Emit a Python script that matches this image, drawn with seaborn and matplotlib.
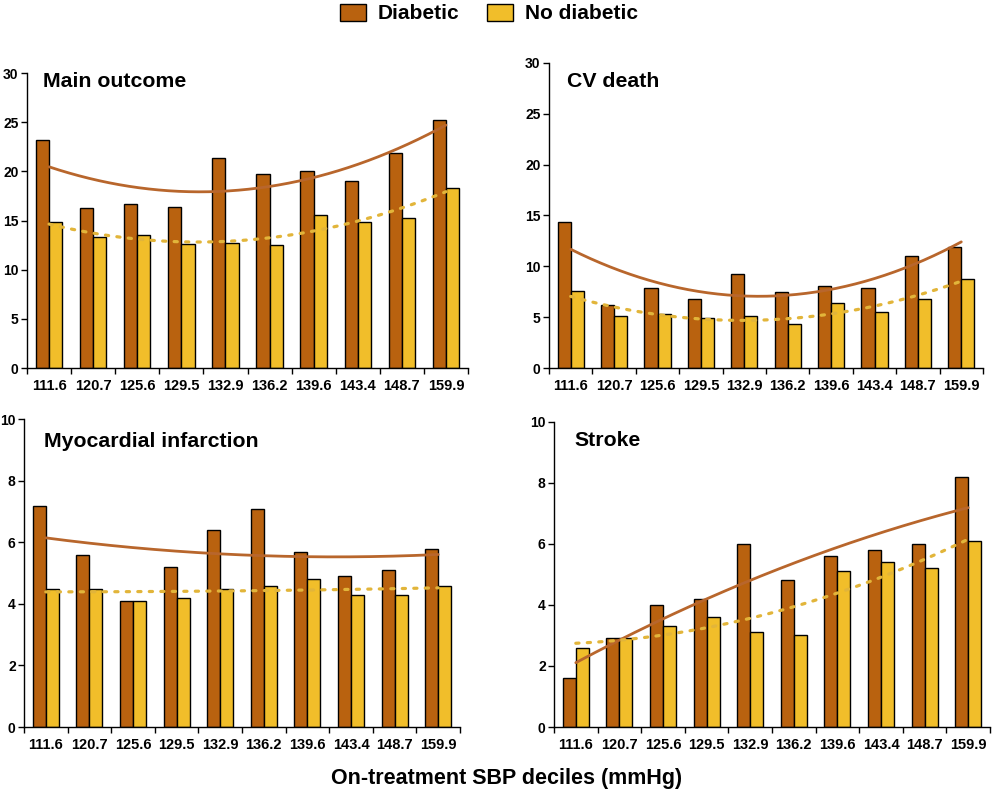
import numpy as np
import pandas as pd
import matplotlib
matplotlib.use("Agg")
import matplotlib.pyplot as plt
import seaborn as sns
from matplotlib.patches import Patch

# SBP decile labels (mmHg)
deciles = ["111.6", "120.7", "125.6", "129.5", "132.9",
           "136.2", "139.6", "143.4", "148.7", "159.9"]

# event rates
main_diab = [23.2, 16.3, 16.7, 16.4, 21.4, 19.7, 20.0, 19.0, 21.9, 25.2]
main_nodiab = [14.9, 13.3, 13.5, 12.6, 12.7, 12.5, 15.6, 14.9, 15.3, 18.3]
cv_diab = [14.4, 6.2, 7.9, 6.8, 9.2, 7.5, 8.1, 7.9, 11.0, 11.9]
cv_nodiab = [7.6, 5.1, 5.3, 4.9, 5.1, 4.3, 6.4, 5.5, 6.8, 8.8]
mi_diab = [7.2, 5.6, 4.1, 5.2, 6.4, 7.1, 5.7, 4.9, 5.1, 5.8]
mi_nodiab = [4.5, 4.5, 4.1, 4.2, 4.5, 4.6, 4.8, 4.3, 4.3, 4.6]
stroke_diab = [1.6, 2.9, 4.0, 4.2, 6.0, 4.8, 5.6, 5.8, 6.0, 8.2]
stroke_nodiab = [2.6, 2.9, 3.3, 3.6, 3.1, 3.0, 5.1, 5.4, 5.2, 6.1]

groups = ["Diabetic", "No diabetic"]
DIAB_COLOR = "#B9620F"
NODIAB_COLOR = "#F1BE2A"
DIAB_LINE = "#B8662C"
NODIAB_LINE = "#E2B53A"

panels = [
    ("Main outcome", main_diab, main_nodiab, 30, 5,
     [0.027, 0.537, 0.441, 0.371], (0.036, 0.971)),
    ("CV death", cv_diab, cv_nodiab, 30, 5,
     [0.549, 0.537, 0.434, 0.384], (0.041, 0.938)),
    ("Myocardial infarction", mi_diab, mi_nodiab, 10, 2,
     [0.024, 0.0855, 0.436, 0.387], (0.046, 0.928)),
    ("Stroke", stroke_diab, stroke_nodiab, 10, 2,
     [0.554, 0.0855, 0.436, 0.384], (0.048, 0.938)),
]

sns.set_theme(style="white")
plt.rcParams["font.family"] = ["Liberation Sans", "DejaVu Sans"]
plt.rcParams["text.color"] = "black"
plt.rcParams["xtick.color"] = "black"
plt.rcParams["ytick.color"] = "black"

fig = plt.figure(figsize=(10, 7.95), dpi=100)

for title, diab, nodiab, ymax, ystep, pos, tpos in panels:
    ax = fig.add_axes(pos)
    df = pd.DataFrame({
        "decile": deciles * 2,
        "rate": diab + nodiab,
        "group": [groups[0]] * len(deciles) + [groups[1]] * len(deciles),
    })
    sns.barplot(data=df, x="decile", y="rate", hue="group", order=deciles,
                hue_order=groups, palette=[DIAB_COLOR, NODIAB_COLOR],
                width=0.6, edgecolor="black", linewidth=1.0, saturation=1,
                legend=False, ax=ax)

    # second-order trend lines
    x = np.arange(len(deciles))
    xs = np.linspace(0, len(deciles) - 1, 200)
    fit_d = np.polyval(np.polyfit(x, diab, 2), xs)
    fit_n = np.polyval(np.polyfit(x, nodiab, 2), xs)
    ax.plot(xs, fit_d, color=DIAB_LINE, lw=2, zorder=5)
    ax.plot(xs, fit_n, color=NODIAB_LINE, lw=2.3, ls=(0, (1, 2.6)),
            dash_capstyle="round", zorder=5)

    ax.set_xlim(-0.5, len(deciles) - 0.5)
    ax.set_ylim(0, ymax)
    ax.set_yticks(np.arange(0, ymax + 0.1, ystep))
    ax.set_xticks(x)
    ax.set_xticklabels(deciles)
    ax.set_xticks(np.arange(-0.5, len(deciles)), minor=True)
    ax.tick_params(axis="x", which="major", length=0, pad=8,
                   labelsize=10.5)
    ax.tick_params(axis="x", which="minor", length=4, width=1,
                   direction="out", color="black", bottom=True)
    ax.tick_params(axis="y", length=4, width=1, direction="out",
                   color="black", left=True, labelsize=10, pad=2)
    for lab in ax.get_xticklabels() + ax.get_yticklabels():
        lab.set_fontweight("bold")
    ax.set_xlabel("")
    ax.set_ylabel("")
    sns.despine(ax=ax)
    ax.spines["left"].set_color("black")
    ax.spines["bottom"].set_color("black")
    ax.spines["left"].set_linewidth(1)
    ax.spines["bottom"].set_linewidth(1)
    ax.text(tpos[0], tpos[1], title, transform=ax.transAxes,
            fontsize=15.3, fontweight="bold", ha="left", va="center")

handles = [Patch(facecolor=DIAB_COLOR, edgecolor="black", label="Diabetic"),
           Patch(facecolor=NODIAB_COLOR, edgecolor="black", label="No diabetic")]
fig.legend(handles=handles, loc="upper center", bbox_to_anchor=(0.489, 1.019),
           ncol=2, frameon=False, prop={"size": 15, "weight": "bold"},
           handlelength=1.25, handleheight=0.9, columnspacing=1.35,
           handletextpad=0.55)

fig.text(0.507, 0.021, "On-treatment SBP deciles (mmHg)", ha="center",
         va="center", fontsize=15.5, fontweight="bold")

fig.savefig("out.png", dpi=100)
